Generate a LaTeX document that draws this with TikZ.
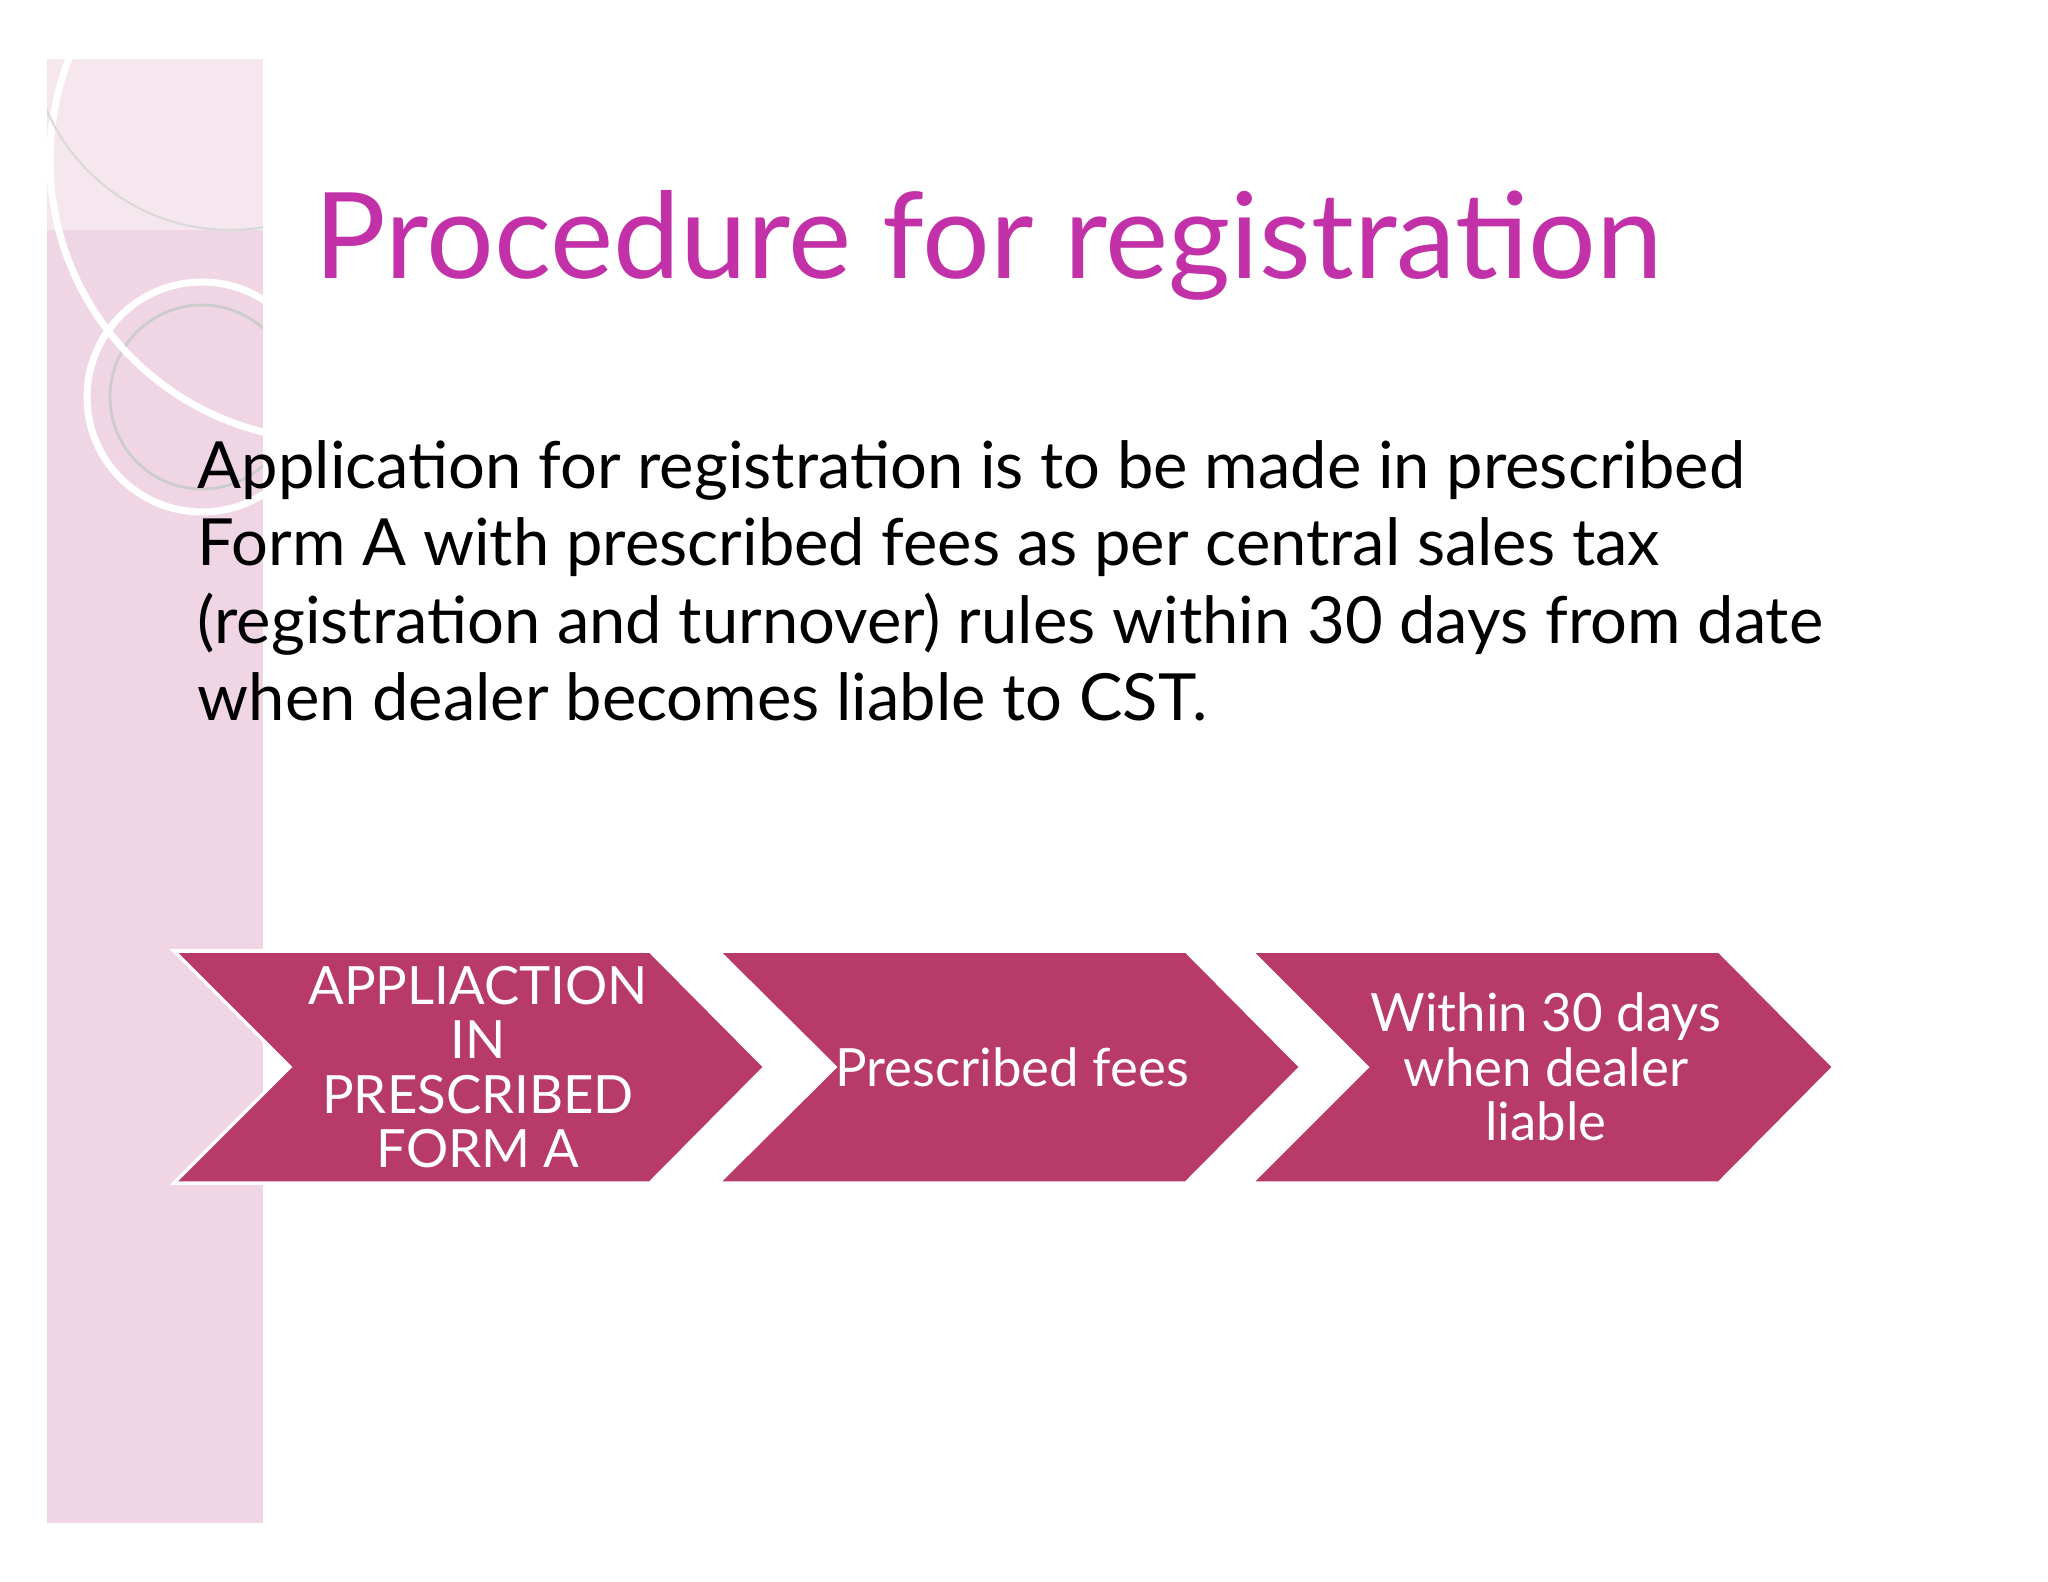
\documentclass[tikz,border=0pt]{standalone}
\usepackage{fontspec}
\setmainfont{Lato}
\definecolor{titlec}{HTML}{C231A8}
\definecolor{chev}{HTML}{B83A68}
\definecolor{strip}{HTML}{F0D6E4}
\begin{document}
\begin{tikzpicture}[x=0.01cm,y=-0.01cm,
  chevtext/.style={text=white,align=center,font=\fontsize{15}{15.5}\selectfont},
  chevshape/.style={fill=chev,draw=white,line width=1pt}]
\useasboundingbox (0,0) rectangle (2048,1582);
\fill[white] (0,0) rectangle (2048,1582);
\fill[strip] (47,59) rectangle (263,1523);
\begin{scope}
\clip (47,59) rectangle (263,1523);
\fill[white,opacity=0.4] (47,59) rectangle (263,230);
\draw[white,line width=2pt] (202,397) circle (115);
\draw[gray!40,line width=0.8pt] (202,397) circle (92);
\draw[white,line width=2pt] (330,160) circle (280);
\draw[gray!30,line width=0.6pt] (230,30) circle (200);
\end{scope}
\node[text=titlec,font=\fontsize{34}{40}\selectfont] (title) at (989,245) {Procedure for registration};
\node[anchor=north west,align=left,font=\fontsize{18.5}{22}\selectfont,inner sep=0] (body) at (197,440)
 {Application for registration is to be made in prescribed\\
  Form A with prescribed fees as per central sales tax\\
  (registration and turnover) rules within 30 days from date\\
  when dealer becomes liable to CST.};
\fill[chevshape] (174,951) -- (650,951) -- (765,1067) -- (650,1183) -- (174,1183) -- (290,1067) -- cycle;
\fill[chevshape] (718,951) -- (1186,951) -- (1301,1067) -- (1186,1183) -- (718,1183) -- (835,1067) -- cycle;
\fill[chevshape] (1251,951) -- (1719,951) -- (1834,1067) -- (1719,1183) -- (1251,1183) -- (1367,1067) -- cycle;
\node[chevtext] (c1) at (478,1067) {APPLIACTION\\IN\\PRESCRIBED\\FORM A};
\node[chevtext] (c2) at (1012,1067) {Prescribed fees};
\node[chevtext] (c3) at (1546,1067) {Within 30 days\\when dealer\\liable};
\end{tikzpicture}
\end{document}
